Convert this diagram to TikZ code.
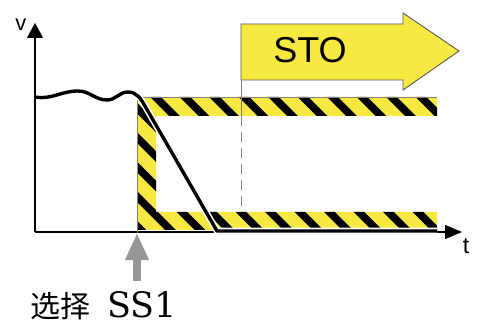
\documentclass[tikz,border=0pt]{standalone}
\usepackage{fontspec}
\setmainfont{Liberation Sans}
\newfontfamily\cjk{Noto Sans CJK SC}
\newfontfamily\ssfont{DejaVu Serif}
\usetikzlibrary{arrows.meta}
\definecolor{warnyellow}{RGB}{248,232,66}
\definecolor{selgray}{RGB}{150,150,150}

\begin{document}
\begin{tikzpicture}[x=1pt, y=-1pt,
        axis/.style={line width=1.2pt},
        signal/.style={line width=3.4pt, line join=round},
        halo/.style={white, line width=6.5pt, line join=round},
        stripe/.style={black, line width=7.5pt},
        selarrow/.style={selgray, line width=8.5pt, -{Triangle[length=27pt, width=22pt]}}]
        \useasboundingbox (0,0) rectangle (477,326);
        \coordinate (O) at (35,232);
        \coordinate (Y) at (35,23);
        \coordinate (X) at (462,232);
        \coordinate (A) at (137,281);
        \coordinate (B) at (137,233);

        % Axes
        \draw[axis, -{Triangle[length=15pt, width=16pt]}] (O) -- (Y);
        \draw[axis, -{Triangle[length=17pt, width=14pt]}] (O) -- (X);
        \node (v) at (21,25) {\fontsize{22}{22}\selectfont v};
        \node (t) at (466,246) {\fontsize{23}{23}\selectfont t};

        % Hatched bands
        \begin{scope}
            \path[clip] (137,97) -- (437,97) -- (437,116) -- (156,116) -- (156,212)
                -- (437,212) -- (437,230) -- (137,230) -- cycle;
            \fill[warnyellow] (130,90) rectangle (440,235);
            \foreach \i in {-6,...,11}
                \draw[stripe] (138.5+29.5*\i, 80) -- ++(170,170);
        \end{scope}
        \draw[gray, line width=0.6pt] (437,97) -- (137,97) -- (B);

        % STO arrow
        \draw[fill=warnyellow, draw=black!65, line width=0.9pt]
            (241,24) -- (403,24) -- (403,13) -- (459,51) -- (403,90) -- (403,80) -- (241,80) -- cycle;
        \node (sto) at (310,50) {\fontsize{36}{36}\selectfont STO};
        \draw[gray, line width=0.8pt] (241,80) -- (241,116);
        \draw[gray, line width=0.8pt, dash pattern=on 10pt off 6pt] (241,116) -- (241,212);

        % Speed
        \draw[halo] (128,92) to[out=0, in=120] (145,106) -- (217,231) -- (437,231);
        \draw[signal] (35,97) to[out=-10, in=180] (78,91) to[out=0, in=180] (107,100)
            to[out=0, in=180] (128,92) to[out=0, in=120] (145,106) -- (217,231) -- (437,231);

        % Selection
        \draw[selarrow] (A) -- (B);
        \node[anchor=base west, inner sep=0pt] (sel) at (30,317)
            {{\cjk\fontsize{30}{30}\selectfont 选择}\hspace{17pt}{\ssfont\fontsize{35}{35}\selectfont SS1}};

    \end{tikzpicture}
\end{document}
